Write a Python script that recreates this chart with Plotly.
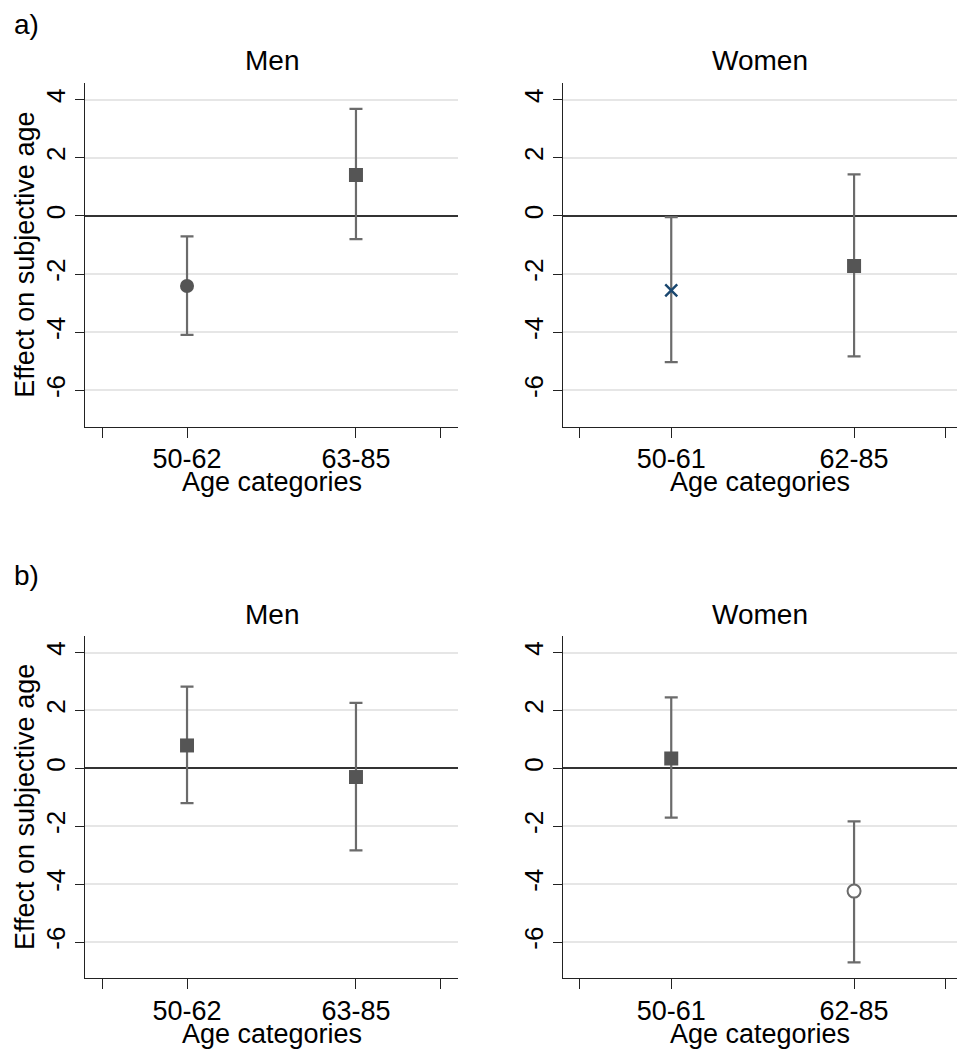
import plotly.graph_objects as go

# ---- data ----
cats_men = ["50-62", "63-85"]
cats_women = ["50-61", "62-85"]

a_men_est = [-2.41, 1.41]
a_men_lo = [-4.09, -0.80]
a_men_hi = [-0.70, 3.68]

a_women_est = [-2.56, -1.72]
a_women_lo = [-5.03, -4.83]
a_women_hi = [-0.04, 1.43]

b_men_est = [0.79, -0.30]
b_men_lo = [-1.20, -2.83]
b_men_hi = [2.82, 2.26]

b_women_est = [0.34, -4.24]
b_women_lo = [-1.70, -6.70]
b_women_hi = [2.45, -1.83]

y_ticks = [-6, -4, -2, 0, 2, 4]
x_pos = [1, 2]

FONT = "Liberation Sans, Arial, sans-serif"
W, H = 957, 1053
GRAY = "#6b6b6b"
MARK = "#555555"
NAVY = "#1a476f"

# marker styles per panel/point: (symbol, fill, line color, line width, size)
styles = {
    "a_men": [("circle", MARK, MARK, 0, 14), ("square", MARK, MARK, 0, 14)],
    "a_women": [("x-thin", NAVY, NAVY, 2.4, 12), ("square", MARK, MARK, 0, 14)],
    "b_men": [("square", MARK, MARK, 0, 14), ("square", MARK, MARK, 0, 14)],
    "b_women": [("square", MARK, MARK, 0, 14), ("circle", "white", GRAY, 2, 13)],
}

panels = [
    ("a_men", a_men_est, a_men_lo, a_men_hi, cats_men, (85, 458), (83, 426.5), "Men", [0.396, 2.604]),
    ("a_women", a_women_est, a_women_lo, a_women_hi, cats_women, (563, 957), (83, 426.5), "Women", [0.408, 2.563]),
    ("b_men", b_men_est, b_men_lo, b_men_hi, cats_men, (85, 458), (636, 978), "Men", [0.396, 2.604]),
    ("b_women", b_women_est, b_women_lo, b_women_hi, cats_women, (563, 957), (636, 978), "Women", [0.408, 2.563]),
]

fig = go.Figure()
annotations = []

for i, (key, est, lo, hi, cats, xpx, ypx, title, xr) in enumerate(panels):
    n = "" if i == 0 else str(i + 1)
    xa, ya = "x" + n, "y" + n
    st = styles[key]
    fig.add_trace(go.Scatter(
        x=x_pos, y=est, mode="markers",
        xaxis=xa, yaxis=ya, showlegend=False,
        error_y=dict(type="data", symmetric=False,
                     array=[h - e for h, e in zip(hi, est)],
                     arrayminus=[e - l for e, l in zip(est, lo)],
                     color=GRAY, thickness=2.2, width=6.5),
        marker=dict(symbol=[s[0] for s in st], color=[s[1] for s in st],
                    size=[s[4] for s in st], opacity=1,
                    line=dict(color=[s[2] for s in st], width=[s[3] for s in st])),
    ))
    xd = [xpx[0] / W, xpx[1] / W]
    yd = [1 - ypx[1] / H, 1 - ypx[0] / H]
    fig.layout["xaxis" + n] = dict(
        domain=xd, range=xr, anchor=ya,
        tickmode="array", tickvals=[0.5, 1, 2, 2.5], ticktext=["", cats[0], cats[1], ""],
        ticks="outside", ticklen=10, tickwidth=1.2, tickcolor="#222",
        ticklabelstandoff=-2,
        showline=True, linecolor="#222", linewidth=1.2,
        showgrid=False, zeroline=False,
        tickfont=dict(family=FONT, size=27, color="black"),
    )
    fig.layout["yaxis" + n] = dict(
        domain=yd, range=[-7.24, 4.57], anchor=xa,
        tickmode="array", tickvals=y_ticks, ticktext=[str(v) for v in y_ticks],
        ticks="outside", ticklen=9, tickwidth=1.2, tickcolor="#222",
        tickangle=-90,
        showline=True, linecolor="#222", linewidth=1.2,
        showgrid=True, gridcolor="#e6e6e6", gridwidth=2.2,
        zeroline=True, zerolinecolor="#333333", zerolinewidth=2.2,
        tickfont=dict(family=FONT, size=26, color="black"),
    )
    cx = (xpx[0] + xpx[1]) / 2 / W
    annotations.append(dict(text=title, x=cx, y=1 - (ypx[0] - 22) / H, xref="paper", yref="paper",
                            xanchor="center", yanchor="middle", showarrow=False,
                            font=dict(family=FONT, size=28, color="black")))
    annotations.append(dict(text="Age categories", x=cx, y=1 - (ypx[1] + 56) / H, xref="paper", yref="paper",
                            xanchor="center", yanchor="middle", showarrow=False,
                            font=dict(family=FONT, size=27, color="black")))
    if xpx[0] < 200:
        annotations.append(dict(text="Effect on subjective age", x=25 / W, y=1 - (ypx[0] + ypx[1]) / 2 / H,
                                xref="paper", yref="paper", textangle=-90,
                                xanchor="center", yanchor="middle", showarrow=False,
                                font=dict(family=FONT, size=27, color="black")))

annotations.append(dict(text="a)", x=12 / W, y=1 - 25 / H, xref="paper", yref="paper",
                        xanchor="left", yanchor="middle", showarrow=False,
                        font=dict(family=FONT, size=28, color="black")))
annotations.append(dict(text="b)", x=12 / W, y=1 - 575 / H, xref="paper", yref="paper",
                        xanchor="left", yanchor="middle", showarrow=False,
                        font=dict(family=FONT, size=28, color="black")))

fig.update_layout(
    width=W, height=H,
    margin=dict(l=0, r=0, t=0, b=0),
    paper_bgcolor="white", plot_bgcolor="white",
    annotations=annotations,
)

fig.write_html("out.html", config={"displayModeBar": False},
               post_script="document.body.style.margin='0';document.body.style.overflow='hidden';")
